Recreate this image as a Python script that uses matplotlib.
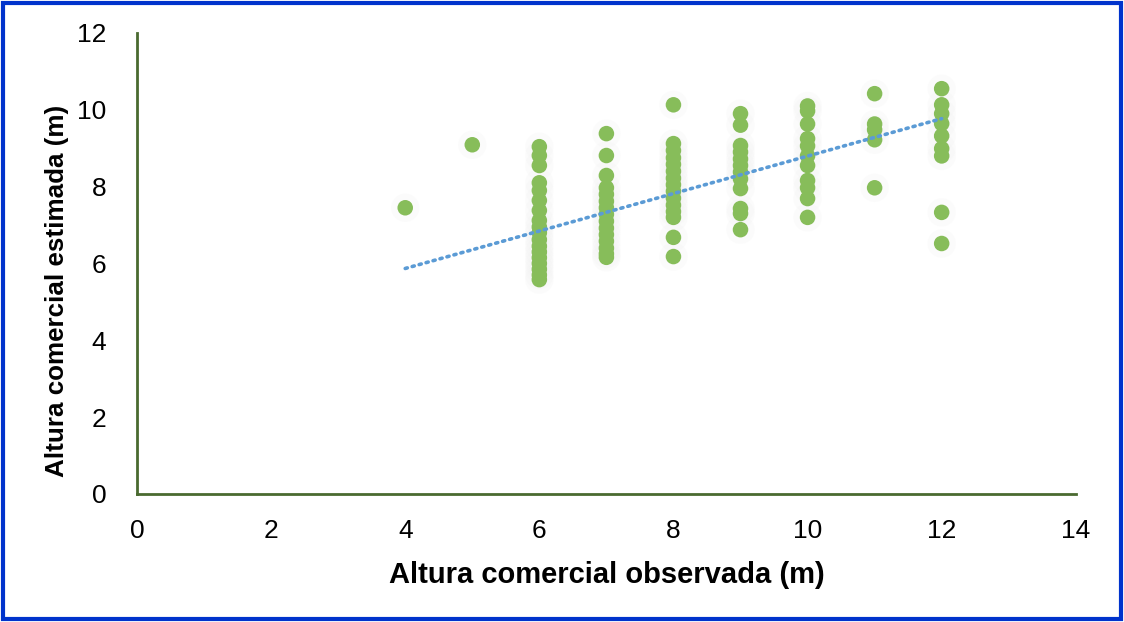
import matplotlib
matplotlib.use("Agg")
import matplotlib.pyplot as plt
import numpy as np
from matplotlib.patches import Rectangle

plt.rcParams['font.family'] = ['Liberation Sans', 'DejaVu Sans']

obs_4 = [7.45]
obs_5 = [9.09]
obs_6 = [9.04, 8.81, 8.55, 8.1, 7.9, 7.64, 7.38, 7.12, 6.95, 6.8, 6.62, 6.45,
         6.3, 6.15, 6.0, 5.85, 5.7, 5.58]
obs_7 = [9.38, 8.81, 8.29, 7.97, 7.8, 7.62, 7.45, 7.28, 7.1, 6.92, 6.75,
         6.58, 6.4, 6.25, 6.16]
obs_8 = [10.13, 9.12, 8.94, 8.75, 8.58, 8.4, 8.22, 8.05, 7.88, 7.7, 7.52,
         7.35, 7.2, 6.68, 6.18]
obs_9 = [9.9, 9.6, 9.07, 8.9, 8.72, 8.55, 8.38, 8.2, 7.95, 7.43, 7.3, 6.88]
obs_10 = [10.1, 9.97, 9.63, 9.25, 9.06, 8.8, 8.55, 8.16, 7.97, 7.69, 7.2]
obs_11 = [10.42, 9.63, 9.48, 9.22, 7.97]
obs_12 = [10.55, 10.13, 9.9, 9.64, 9.32, 8.99, 8.8, 7.33, 6.52]

# linear trendline as drawn (endpoints)
trend_x = [4, 12]
trend_y = [5.87, 9.77]

groups = {4: obs_4, 5: obs_5, 6: obs_6, 7: obs_7, 8: obs_8, 9: obs_9,
          10: obs_10, 11: obs_11, 12: obs_12}
x = np.concatenate([[k] * len(v) for k, v in groups.items()]).astype(float)
y = np.concatenate([v for v in groups.values()])

fig = plt.figure(figsize=(11.24, 6.22), dpi=100)
ax = fig.add_axes([0.1219, 0.2058, 0.8352, 0.7412])

# faint halo like the excel soft shadow
ax.scatter(x, y, s=420, color='#f2f2f2', alpha=0.25, edgecolors='none', zorder=1)
ax.scatter(x, y, s=125, color='#87bd5a', edgecolors='none', zorder=2)

ax.plot(trend_x, trend_y, linestyle=(0, (0.6, 1.4)), color='#5b9bd5', lw=2.6,
        dash_capstyle='round', zorder=3)

ax.set_xlim(0, 14)
ax.set_ylim(0, 12)
ax.set_xticks(range(0, 15, 2))
ax.set_yticks(range(0, 13, 2))
ax.tick_params(length=0, labelsize=19, pad=18)
ax.tick_params(axis='y', pad=22)
for s in ['top', 'right']:
    ax.spines[s].set_visible(False)
for s in ['left', 'bottom']:
    ax.spines[s].set_color('#4a6a30')
    ax.spines[s].set_linewidth(2)

ax.set_xlabel('Altura comercial observada (m)', fontsize=21, fontweight='bold',
              labelpad=13)
ax.set_ylabel('Altura comercial estimada (m)', fontsize=18.7, fontweight='bold')
ax.yaxis.set_label_coords(-0.072, 0.44)

fig.patches.append(Rectangle((0.003, 0.005), 0.994, 0.99, transform=fig.transFigure,
                             fill=False, edgecolor='#0033cc', lw=3))

fig.savefig('out.png', dpi=100)
